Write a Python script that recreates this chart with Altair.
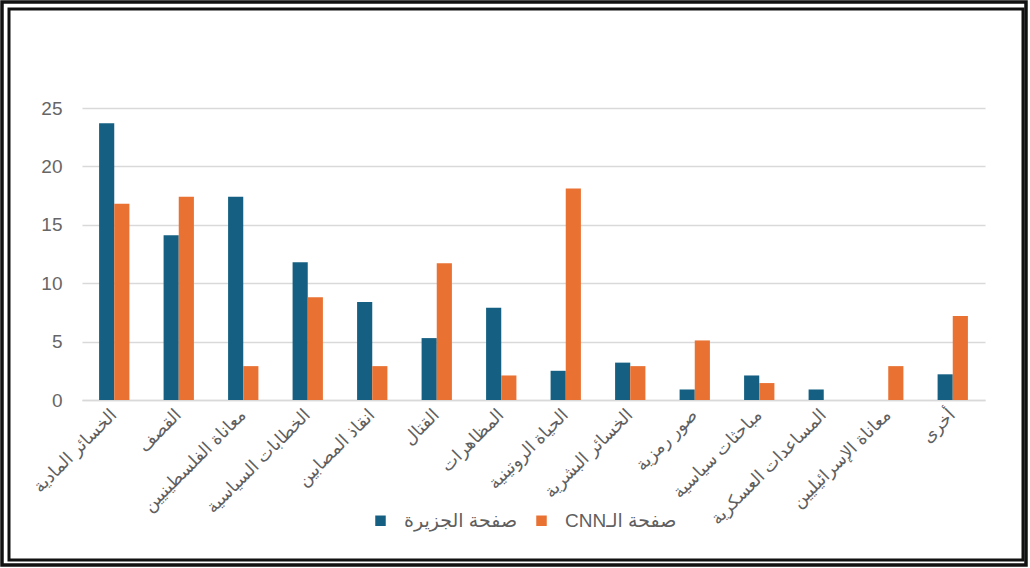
import altair as alt
import pandas as pd

categories = [
    "الخسائر المادية", "القصف", "معاناة الفلسطينيين", "الخطابات السياسية",
    "انقاذ المصابين", "القتال", "المظاهرات", "الحياة الروتينية",
    "الخسائر البشرية", "صور رمزية", "مباحثات سياسية", "المساعدات العسكرية",
    "معاناة الإسرائيليين", "أخرى",
]
series = ["صفحة الجزيرة", "صفحة الـCNN"]
aljazeera = [23.7, 14.1, 17.4, 11.8, 8.4, 5.3, 7.9, 2.5, 3.2, 0.9, 2.1, 0.9, 0.0, 2.2]
cnn = [16.8, 17.4, 2.9, 8.8, 2.9, 11.7, 2.1, 18.1, 2.9, 5.1, 1.45, 0.0, 2.9, 7.2]
y_ticks = [0, 5, 10, 15, 20, 25]
colors = ["#156082", "#E97132"]

rows = []
for c, a, b in zip(categories, aljazeera, cnn):
    rows.append({"category": c, "series": series[0], "value": a})
    rows.append({"category": c, "series": series[1], "value": b})
df = pd.DataFrame(rows)

RLE, PDF = "\u202b", "\u202c"
label_expr = f"datum.label == '{series[1]}' ? '{RLE}{series[1]}{PDF}' : datum.label"

W, H = 903, 292
PL, PT, PR, PB = 82, 108, 45, 168

bars = alt.Chart(df).mark_bar().encode(
    x=alt.X("category:N", sort=categories, title=None,
            scale=alt.Scale(paddingInner=0.53, paddingOuter=0.265),
            axis=alt.Axis(labelAngle=-45, labelAlign="right", labelBaseline="middle",
                          labelPadding=12, ticks=False, domainColor="#d9d9d9",
                          domainWidth=1.5, labelColor="#5f5f5f", labelFontSize=17.5,
                          labelFont="Liberation Sans, DejaVu Sans", labelLimit=300,
                          grid=False)),
    xOffset=alt.XOffset("series:N", sort=series),
    y=alt.Y("value:Q", title=None,
            scale=alt.Scale(domain=[0, 25], nice=False),
            axis=alt.Axis(values=y_ticks, domain=False, ticks=False, labelPadding=20,
                          labelFontSize=19, labelColor="#666666",
                          labelFont="Liberation Sans", gridColor="#d9d9d9", gridWidth=1.5)),
    color=alt.Color("series:N", sort=series,
                    scale=alt.Scale(domain=series, range=colors),
                    legend=alt.Legend(title=None, orient="none", direction="horizontal",
                                      legendX=289, legendY=403, symbolType="square",
                                      symbolSize=110, symbolStrokeWidth=0,
                                      labelFontSize=19, labelColor="#5f5f5f",
                                      labelFont="Liberation Sans, DejaVu Sans",
                                      labelOffset=14, columnPadding=14,
                                      labelExpr=label_expr)),
)

frame_data = alt.Data(values=[{"k": 1}])
outer = alt.Chart(frame_data).mark_rect(fill=None, stroke="#111111", strokeWidth=3.5).encode(
    x=alt.value(2 - PL), x2=alt.value(1026 - PL),
    y=alt.value(2 - PT), y2=alt.value(565 - PT),
)
inner = alt.Chart(frame_data).mark_rect(fill=None, stroke="#111111", strokeWidth=3).encode(
    x=alt.value(9 - PL), x2=alt.value(1023 - PL),
    y=alt.value(9 - PT), y2=alt.value(560 - PT),
)

chart = alt.layer(bars, outer, inner).properties(
    width=W, height=H,
    autosize=alt.AutoSizeParams(type="none"),
    padding={"left": PL, "top": PT, "right": PR, "bottom": PB},
    background="white",
).configure_view(stroke=None)

chart.save("out.html", embed_options={"renderer": "svg", "actions": False})
